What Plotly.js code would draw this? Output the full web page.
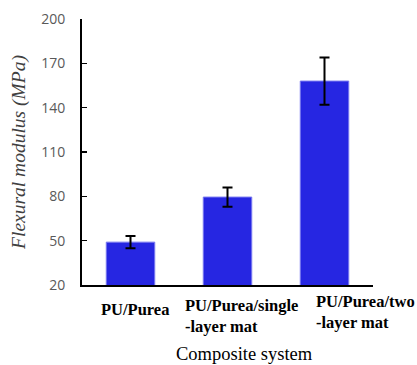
<!DOCTYPE html>
<html><head><meta charset="utf-8">
<script src="https://cdn.plot.ly/plotly-3.0.1.min.js"></script>
<style>html,body{margin:0;padding:0;background:#fff}#c{width:417px;height:365px}</style>
</head><body><div id="c"></div>
<script>
var categories = ["PU/Purea", "PU/Purea/single<br>-layer mat", "PU/Purea/two<br>-layer mat"];
var modulus = [49, 79.5, 158];
var modulusErr = [4.2, 6.5, 16];
var yTicks = [20, 50, 80, 110, 140, 170, 200];
var xTitle = 'Composite system';
var yTitle = 'Flexural modulus (MPa)';

var SERIF = 'Liberation Serif, Times New Roman, serif';
var labelXShift = [-32, -45, -11];
var labelYShift = [-13, -9, -5];

var trace = {
  type: 'bar', x: [0, 1, 2], y: modulus,
  width: 0.5,
  marker: {color: 'rgb(38,38,226)', line: {color: 'rgb(120,120,240)', width: 1}},
  error_y: {type: 'data', array: modulusErr, visible: true, color: '#000', thickness: 2, width: 5}
};

var annotations = categories.map(function(c, i){
  return {
    x: i, xref: 'x', y: 0, yref: 'paper', yanchor: 'top',
    xanchor: 'left', xshift: labelXShift[i], yshift: labelYShift[i],
    text: '<b>' + c + '</b>', showarrow: false, align: 'left',
    font: {family: SERIF, size: 16.5, color: '#000'}
  };
});
annotations.push({
  x: 0.557, xref: 'paper', y: 0, yref: 'paper', xanchor: 'center', yanchor: 'middle',
  yshift: -69, text: xTitle, showarrow: false,
  font: {family: SERIF, size: 18.5, color: '#000'}
});

var layout = {
  width: 417, height: 365,
  margin: {l: 82, r: 44, t: 19, b: 80},
  paper_bgcolor: '#fff', plot_bgcolor: '#fff',
  showlegend: false,
  xaxis: {
    range: [-0.5, 2.5], showticklabels: false, ticks: '', showgrid: false, zeroline: false,
    showline: true, linecolor: '#000', linewidth: 2
  },
  yaxis: {
    range: [20, 200], tickvals: yTicks, ticks: 'inside', ticklen: 5, tickwidth: 1.5, tickcolor: '#000',
    showgrid: false, zeroline: false, showline: true, linecolor: '#000', linewidth: 2,
    ticklabelstandoff: 12,
    tickfont: {family: 'Open Sans', size: 14, color: '#595959'},
    title: {text: '<i>' + yTitle + '</i>', standoff: 10, font: {family: SERIF, size: 19.5, color: '#404040'}}
  },
  annotations: annotations
};
Plotly.newPlot('c', [trace], layout, {staticPlot: true, displayModeBar: false});
</script></body></html>
